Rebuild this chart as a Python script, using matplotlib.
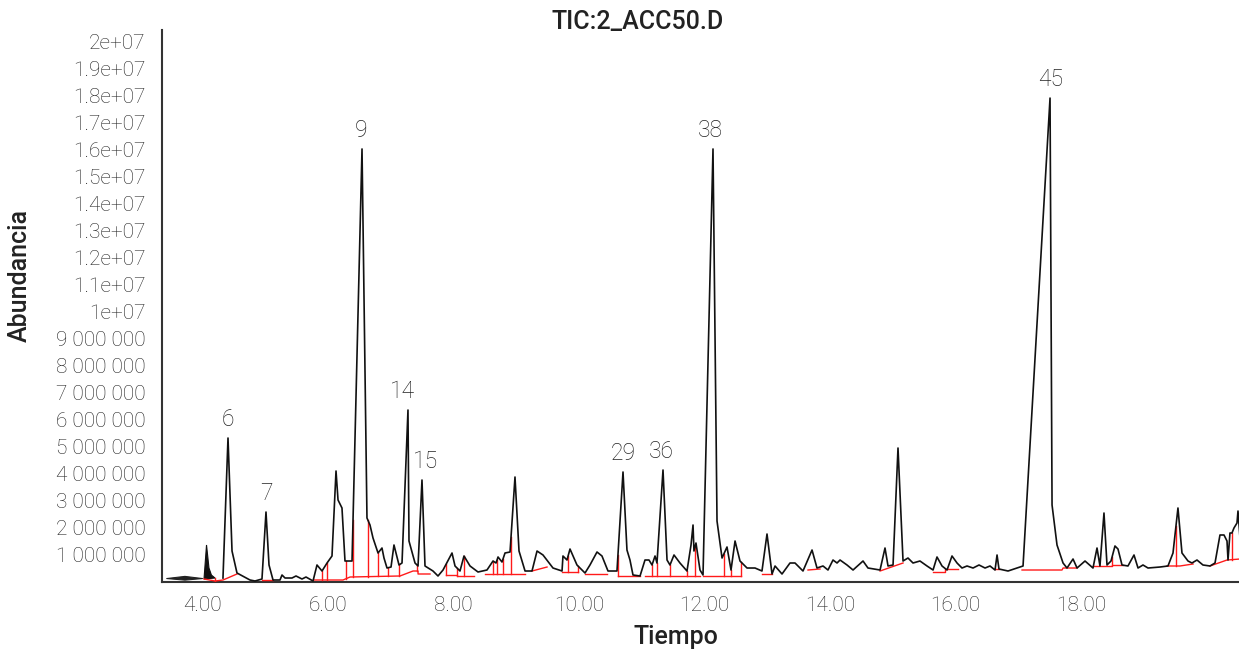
import matplotlib
matplotlib.use('Agg')
import matplotlib.pyplot as plt
import numpy as np

# TIC trace: time (min) and abundance (millions of counts)
tiempo = [4.334, 4.414, 4.478, 4.557, 4.764, 4.844, 4.955, 5.019, 5.067, 5.131,
          5.242, 5.274, 5.322, 5.433, 5.497, 5.592, 5.656, 5.768, 5.831, 5.911,
          5.991, 6.070, 6.134, 6.166, 6.229, 6.277, 6.389, 6.548, 6.627, 6.675,
          6.723, 6.803, 6.866, 6.898, 6.946, 7.010, 7.057, 7.137, 7.185, 7.280,
          7.296, 7.392, 7.440, 7.503, 7.551, 7.678, 7.758, 7.838, 7.981, 8.029,
          8.108, 8.172, 8.268, 8.395, 8.538, 8.634, 8.682, 8.714, 8.777, 8.825,
          8.905, 8.984, 9.048, 9.144, 9.255, 9.335, 9.430, 9.589, 9.733, 9.748,
          9.812, 9.860, 9.971, 10.099, 10.178, 10.290, 10.369, 10.465, 10.608, 10.704,
          10.767, 10.815, 10.863, 10.975, 11.054, 11.118, 11.166, 11.214, 11.245, 11.341,
          11.405, 11.452, 11.516, 11.611, 11.723, 11.787, 11.819, 11.834, 11.866, 11.930,
          11.978, 12.137, 12.201, 12.281, 12.360, 12.424, 12.488, 12.567, 12.679, 12.806,
          12.917, 12.997, 13.077, 13.125, 13.236, 13.363, 13.443, 13.570, 13.714, 13.793,
          13.889, 13.968, 14.048, 14.112, 14.160, 14.271, 14.367, 14.526, 14.605, 14.797,
          14.876, 14.924, 15.004, 15.083, 15.163, 15.242, 15.322, 15.433, 15.545, 15.641,
          15.704, 15.784, 15.864, 15.943, 16.023, 16.102, 16.182, 16.278, 16.373, 16.469,
          16.548, 16.628, 16.660, 16.691, 16.835, 16.978, 17.074, 17.504, 17.536, 17.615,
          17.711, 17.774, 17.870, 17.934, 18.061, 18.188, 18.252, 18.299, 18.363, 18.411,
          18.475, 18.538, 18.586, 18.650, 18.745, 18.841, 18.905, 18.984, 19.064, 19.255,
          19.382, 19.462, 19.541, 19.605, 19.701, 19.764, 19.844, 19.939, 20.051, 20.131,
          20.210, 20.274, 20.322, 20.338, 20.369, 20.401, 20.433, 20.481, 20.497, 20.529]
abundancia = [0.11, 5.306, 1.113, 0.297, 0.037, 0.0, 0.074, 2.560, 0.594, 0.037,
              0.037, 0.223, 0.111, 0.111, 0.186, 0.074, 0.148, 0.0, 0.594, 0.371,
              0.668, 0.928, 4.082, 3.006, 2.709, 0.742, 0.742, 16.03, 2.338, 2.078,
              1.596, 1.039, 1.224, 0.853, 0.482, 0.519, 1.336, 0.594, 0.668, 6.345,
              1.484, 0.668, 0.557, 3.748, 0.557, 0.371, 0.186, 0.408, 1.039, 0.557,
              0.371, 0.928, 0.557, 0.334, 0.408, 0.742, 0.668, 0.891, 0.705, 1.039,
              1.076, 3.859, 1.113, 0.371, 0.371, 1.113, 0.965, 0.482, 0.371, 0.928,
              0.779, 1.187, 0.594, 0.297, 0.594, 1.076, 0.928, 0.371, 0.371, 4.045,
              1.150, 0.779, 0.223, 0.186, 0.779, 0.779, 0.594, 0.928, 0.668, 4.119,
              0.779, 0.594, 0.965, 0.668, 0.371, 1.336, 2.078, 1.113, 1.410, 0.408,
              0.223, 16.03, 2.226, 0.853, 1.262, 0.408, 1.484, 0.742, 0.482, 0.482,
              0.371, 1.744, 0.260, 0.557, 0.260, 0.668, 0.668, 0.371, 1.150, 0.482,
              0.557, 0.408, 0.779, 0.668, 0.779, 0.594, 0.408, 0.742, 0.482, 0.408,
              1.224, 0.557, 0.594, 4.935, 0.742, 0.853, 0.668, 0.742, 0.557, 0.408,
              0.891, 0.557, 0.408, 0.928, 0.668, 0.482, 0.557, 0.482, 0.594, 0.482,
              0.557, 0.408, 0.965, 0.445, 0.371, 0.482, 0.557, 17.92, 2.820, 1.336,
              0.668, 0.482, 0.816, 0.482, 0.742, 0.482, 1.224, 0.557, 2.523, 0.594,
              0.742, 1.299, 1.187, 0.594, 0.557, 0.965, 0.482, 0.594, 0.482, 0.519,
              0.557, 1.039, 2.709, 1.039, 0.742, 0.668, 0.779, 0.594, 0.557, 0.668,
              1.707, 1.707, 1.484, 0.779, 1.781, 1.781, 1.967, 2.152, 2.597, 1.595]

# solvent front (filled shapes at the start)
frente_t = [3.430, 3.720, 4.000]
frente_sup = [0.11, 0.19, 0.11]
frente_inf = [0.11, 0.05, 0.11]
pico0_t = [4.032, 4.072, 4.111, 4.150, 4.207]
pico0_y = [0.074, 1.336, 0.482, 0.220, 0.11]

# integration baselines (red), one list per segment
lineas_base = [
    ([4.032, 4.207, 4.334, 4.557], [0.074, 0.0, 0.037, 0.260]),
    ([4.955, 5.131], [0.037, 0.037]),
    ([5.784, 6.245, 6.357, 7.153, 7.360, 7.440, 7.440, 7.631],
     [0.037, 0.037, 0.148, 0.186, 0.371, 0.371, 0.260, 0.260]),
    ([7.885, 8.061, 8.061, 8.331], [0.223, 0.223, 0.186, 0.186]),
    ([8.507, 9.144], [0.260, 0.260]),
    ([9.255, 9.494], [0.371, 0.519]),
    ([9.733, 9.987], [0.334, 0.334]),
    ([10.099, 10.449], [0.260, 0.260]),
    ([10.624, 10.975], [0.186, 0.186]),
    ([11.054, 11.930], [0.186, 0.186]),
    ([11.978, 12.583], [0.186, 0.186]),
    ([12.917, 13.077], [0.260, 0.260]),
    ([13.650, 13.841], [0.408, 0.445]),
    ([14.797, 15.163], [0.371, 0.668]),
    ([15.641, 15.832, 15.832, 16.039], [0.334, 0.334, 0.445, 0.445]),
    ([16.628, 16.691], [0.445, 0.445]),
    ([17.058, 17.695, 17.711, 17.934], [0.408, 0.408, 0.482, 0.482]),
    ([18.188, 18.491, 18.491, 18.666], [0.557, 0.557, 0.594, 0.594]),
    ([19.367, 19.573, 19.781], [0.557, 0.557, 0.631]),
    ([20.051, 20.322, 20.529], [0.557, 0.779, 0.816]),
]
cortes = [4.207, 5.911, 5.991, 6.293, 6.405, 6.643, 6.803, 6.962, 7.137, 7.424,
          7.885, 8.061, 8.172, 8.634, 8.698, 8.793, 8.921, 9.828, 9.987, 10.624,
          11.166, 11.245, 11.452, 11.723, 11.850, 12.312, 12.424, 12.583, 18.491,
          19.510, 20.401]

# labelled peaks
picos_num = ['6', '7', '9', '14', '15', '29', '36', '38', '45']
picos_t = [4.414, 5.019, 6.548, 7.280, 7.503, 10.704, 11.341, 12.137, 17.504]
picos_dx = [0, 0, -1, -5, 4, 0, -2, -3, 1]

yticks = [1, 2, 3, 4, 5, 6, 7, 8, 9, 10, 11, 12, 13, 14, 15, 16, 17, 18, 19, 20]
ytick_labels = ['1 000 000', '2 000 000', '3 000 000', '4 000 000', '5 000 000',
                '6 000 000', '7 000 000', '8 000 000', '9 000 000', '1e+07',
                '1.1e+07', '1.2e+07', '1.3e+07', '1.4e+07', '1.5e+07', '1.6e+07',
                '1.7e+07', '1.8e+07', '1.9e+07', '2e+07']
xticks = [4, 6, 8, 10, 12, 14, 16, 18]
xtick_labels = ['4.00', '6.00', '8.00', '10.00', '12.00', '14.00', '16.00', '18.00']

plt.rcParams['font.family'] = ['Roboto', 'DejaVu Sans']

fig = plt.figure(figsize=(12.39, 6.5), dpi=100)
ax = fig.add_axes([162 / 1239, 68 / 650, 1 - 162 / 1239, 552 / 650])

t = np.array(tiempo)
a = np.array(abundancia)

ax.fill_between(frente_t, frente_inf, frente_sup, color='#222222', lw=0.8)
ax.fill(pico0_t, pico0_y, color='#111111', lw=0.8)

bx, by = [], []
for seg_t, seg_y in lineas_base:
    ax.plot(seg_t, seg_y, color='#ff1a1a', lw=1.0, zorder=3)
    bx += seg_t
    by += seg_y
orden = np.argsort(bx, kind='stable')
bx = np.array(bx)[orden]
by = np.array(by)[orden]
for c in cortes:
    base = np.interp(c, bx, by)
    top = np.interp(c, t, a) if c >= t[0] else np.interp(c, pico0_t, pico0_y)
    ax.plot([c, c], [base, top], color='#ff1a1a', lw=1.0, zorder=3)

ax.plot(t, a, color='#111111', lw=1.2, zorder=4)

for lab, pt, dx in zip(picos_num, picos_t, picos_dx):
    ax.annotate(lab, (pt, np.interp(pt, t, a)), xytext=(dx, 7), textcoords='offset pixels',
                ha='center', va='bottom', fontsize=16.5, fontweight='light', color='#222222')

ax.set_xlim(3.363, 20.513)
ax.set_ylim(-0.037, 20.445)
ax.set_xticks(xticks)
ax.set_xticklabels(xtick_labels)
ax.set_yticks(yticks)
ax.set_yticklabels(ytick_labels)
ax.tick_params(length=0, labelsize=15, labelcolor='#222222', pad=12)
ax.tick_params(axis='x', pad=10)
for lbl in ax.get_xticklabels() + ax.get_yticklabels():
    lbl.set_fontweight('light')

for s in ['top', 'right']:
    ax.spines[s].set_visible(False)
for s in ['left', 'bottom']:
    ax.spines[s].set_color('#333333')
    ax.spines[s].set_linewidth(1.5)

fig.text(638 / 1239, 1 - 22 / 650, 'TIC:2_ACC50.D', ha='center', va='center',
         fontsize=18, fontweight='medium', color='#222222')
fig.text(676 / 1239, 1 - 637 / 650, 'Tiempo', ha='center', va='center',
         fontsize=18, fontweight='medium', color='#222222')
fig.text(20 / 1239, 1 - 275 / 650, 'Abundancia', ha='center', va='center', rotation=90,
         fontsize=18, fontweight='medium', color='#222222')

fig.savefig('out.png', dpi=100)
